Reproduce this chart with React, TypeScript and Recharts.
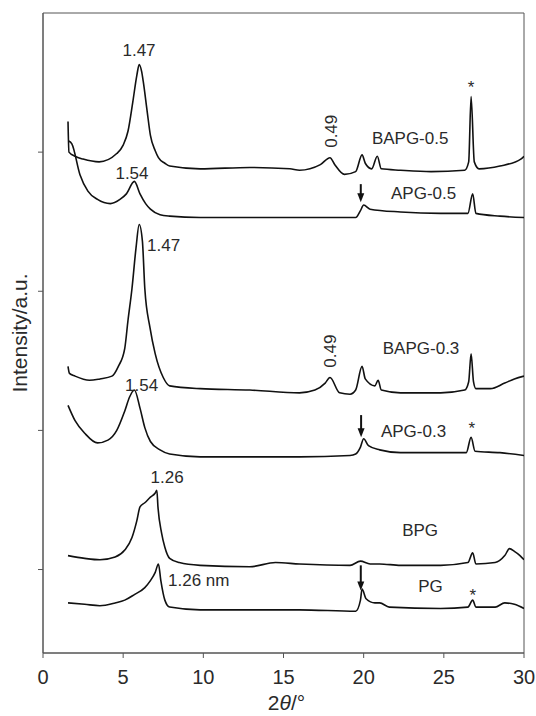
import React from 'react';
import {
  LineChart,
  Line,
  XAxis,
  YAxis,
  ReferenceArea,
  ReferenceDot,
  ReferenceLine
} from 'recharts';

// XRD patterns, [2θ (°), intensity (a.u., stacked offsets)]
const bapg05 = [
  [1.56, 322], [1.62, 300], [2.0, 297], [2.5, 295], [3.5, 293], [4.6, 299], [5.0, 305], [5.3, 315],
  [5.6, 336], [5.85, 355], [6.0, 363], [6.15, 358], [6.25, 351], [6.5, 329], [6.7, 312], [7.0, 301],
  [7.2, 296], [7.6, 292], [7.9, 290], [9.8, 288], [12.9, 289], [15.4, 288], [16.0, 287], [17.3, 291],
  [17.9, 296], [18.2, 291], [18.8, 284], [19.5, 286], [19.9, 298], [20.1, 292], [20.5, 288], [20.85, 297],
  [21.1, 288], [22.3, 287], [24.2, 286], [26.3, 287], [26.55, 293], [26.7, 340], [26.9, 293], [27.2, 288],
  [28.5, 290], [29.8, 295], [30, 297]
];
const apg05 = [
  [1.6, 308], [1.8, 306], [2.3, 284], [2.8, 272], [3.4, 266], [4.2, 263], [4.8, 266], [5.2, 270],
  [5.7, 279], [6.05, 270], [6.4, 263], [6.7, 259], [7.3, 255], [7.9, 254], [9.8, 253], [12.9, 253],
  [16.0, 253], [19.5, 253], [19.8, 258], [20.0, 262], [20.4, 259], [22.3, 257], [24.8, 256], [26.5, 256],
  [26.8, 270], [27.0, 256], [28.5, 254], [30, 253]
];
const bapg03 = [
  [1.56, 146], [1.65, 141], [2.0, 139], [2.9, 136], [3.55, 137], [4.3, 139], [4.7, 146], [5.1, 159],
  [5.3, 179], [5.55, 202], [5.8, 231], [6.0, 248], [6.2, 236], [6.35, 202], [6.67, 174], [7.0, 155],
  [7.5, 138], [7.9, 132], [9.8, 130], [12.9, 129], [16.0, 127], [16.96, 129], [17.6, 134], [17.9, 138],
  [18.5, 127], [19.15, 126], [19.5, 129], [19.9, 146], [20.1, 137], [20.7, 132], [20.9, 136], [21.1, 129],
  [22.3, 127], [24.8, 127], [26.3, 129], [26.55, 135], [26.7, 155], [26.85, 135], [27.0, 130], [27.9, 130],
  [28.8, 134], [29.4, 137], [30, 139]
];
const apg03 = [
  [1.56, 118], [2.0, 107], [2.6, 98], [3.4, 91], [4.05, 93], [4.6, 100], [5.1, 114], [5.4, 124],
  [5.7, 129], [6.05, 116], [6.35, 102], [6.7, 92], [7.3, 86], [7.9, 83], [9.8, 81], [12.9, 81],
  [16.0, 81], [19.15, 82], [19.5, 83], [19.8, 88], [20.0, 94], [20.3, 89], [21.0, 86], [22.3, 84],
  [24.8, 84], [26.4, 84], [26.7, 95], [26.95, 85], [28.5, 84], [30, 82]
];
const bpg = [
  [1.56, 10], [2.6, 8], [3.55, 7], [4.5, 9], [5.1, 14], [5.55, 23], [5.85, 35], [6.05, 45],
  [6.35, 48], [6.7, 52], [7.0, 55], [7.1, 57], [7.17, 45], [7.4, 26], [7.6, 16], [7.9, 8],
  [8.5, 5], [9.8, 3], [12.9, 2], [14.5, 5], [16.0, 4], [19.15, 3], [19.8, 6], [20.4, 4],
  [21.0, 4], [22.3, 3], [24.8, 3], [26.5, 5], [26.8, 12], [27.0, 4], [28.2, 5], [28.8, 10],
  [29.1, 15], [29.4, 13], [29.75, 10], [30, 7]
];
const pg = [
  [1.56, -24], [2.6, -25], [3.55, -26], [4.5, -24], [5.1, -22], [5.7, -18], [6.35, -13], [6.7, -8],
  [7.0, -2], [7.2, 4], [7.35, -8], [7.6, -22], [7.9, -27], [9.8, -29], [12.9, -29], [16.0, -29],
  [19.5, -30], [19.8, -22], [19.9, -14], [20.15, -21], [20.7, -24], [21.0, -24], [21.6, -27], [24.8, -28],
  [26.5, -27], [26.8, -22], [27.0, -27], [28.2, -27], [28.8, -24], [29.4, -25], [30, -28]
];

const xTicks = [0, 5, 10, 15, 20, 25, 30];
const yTicks = [0, 100, 200, 300];

// peak / sample labels (x in 2θ, y in a.u.)
const labels = [
  { x: 5.99, y: 373, text: '1.47' },
  { x: 18.0, y: 315, text: '0.49', vertical: true },
  { x: 22.9, y: 310, text: 'BAPG-0.5' },
  { x: 5.55, y: 285, text: '1.54' },
  { x: 23.74, y: 270, text: 'APG-0.5' },
  { x: 6.49, y: 233, text: '1.47', start: true },
  { x: 17.93, y: 157, text: '0.49', vertical: true },
  { x: 23.58, y: 159, text: 'BAPG-0.3' },
  { x: 6.15, y: 132, text: '1.54' },
  { x: 23.11, y: 99, text: 'APG-0.3' },
  { x: 7.74, y: 66, text: '1.26' },
  { x: 23.52, y: 28, text: 'BPG' },
  { x: 7.8, y: -8, text: '1.26 nm', start: true },
  { x: 24.17, y: -12, text: 'PG' }
];
const stars = [
  { x: 26.7, y: 349 },
  { x: 26.75, y: 104 },
  { x: 26.8, y: -16 }
];
const arrows = [
  { x: 19.82, from: 277, to: 264 },
  { x: 19.84, from: 111, to: 95 },
  { x: 19.82, from: 3, to: -15 }
];

const series = [bapg05, apg05, bapg03, apg03, bpg, pg];
const toPoints = (rows: number[][]) => rows.map(([x, y]) => ({ x, y }));

const FONT = '"Liberation Sans", Arial, Helvetica, sans-serif';
const INK = '#111';
const TEXT = '#2a2a2a';
const AXIS = '#555';

const Arrow = (p: any) => {
  const { x1, y1, x2, y2 } = p;
  const head = 9;
  return (
    <g>
      <line x1={x1} y1={y1} x2={x2} y2={y2 - head + 1} stroke={INK} strokeWidth={2} />
      <path d={`M${x2 - 3.5},${y2 - head} L${x2 + 3.5},${y2 - head} L${x2},${y2} Z`} fill={INK} />
    </g>
  );
};

const YTitle = ({ viewBox }: any) => (
  <text
    x={viewBox.x + 14}
    y={viewBox.y + viewBox.height / 2}
    transform={`rotate(-90, ${viewBox.x + 14}, ${viewBox.y + viewBox.height / 2})`}
    textAnchor="middle"
    fontSize={21}
    fontFamily={FONT}
    fill={TEXT}
  >
    Intensity/a.u.
  </text>
);

const XTitle = ({ viewBox }: any) => (
  <text
    x={viewBox.x + viewBox.width / 2 + 3}
    y={viewBox.y + 57}
    textAnchor="middle"
    fontSize={21}
    fontFamily={FONT}
    fill={TEXT}
  >
    2<tspan fontStyle="italic">θ</tspan>/°
  </text>
);

export default function App() {
  return (
    <div style={{ position: 'absolute', left: 0, top: 0, width: 536, height: 716 }}>
      <LineChart width={536} height={716} margin={{ top: 13, right: 12, bottom: 0, left: 13 }}>
        <XAxis
          type="number"
          dataKey="x"
          domain={[0, 30]}
          ticks={xTicks}
          allowDataOverflow
          height={63}
          stroke={AXIS}
          tickSize={5}
          tickMargin={12}
          tick={{ fontSize: 20, fontFamily: FONT, fill: TEXT }}
          label={{ content: XTitle }}
        />
        <YAxis
          type="number"
          dataKey="y"
          domain={[-60, 400]}
          ticks={yTicks}
          allowDataOverflow
          width={30}
          stroke={AXIS}
          tickSize={5}
          tickFormatter={() => ''}
          label={{ content: YTitle }}
        />
        <ReferenceArea x1={0} x2={30} y1={-60} y2={400} fill="none" stroke={AXIS} strokeWidth={1} />
        {series.map((rows, i) => (
          <Line
            key={i}
            data={toPoints(rows)}
            dataKey="y"
            type="monotone"
            stroke={INK}
            strokeWidth={1.6}
            dot={false}
            activeDot={false}
            isAnimationActive={false}
          />
        ))}
        {arrows.map((a, i) => (
          <ReferenceLine
            key={`a${i}`}
            segment={[{ x: a.x, y: a.from }, { x: a.x, y: a.to }]}
            shape={Arrow}
          />
        ))}
        {labels.map((l, i) => (
          <ReferenceDot
            key={`l${i}`}
            x={l.x}
            y={l.y}
            r={1}
            shape={(p: any) => (
              <text
                x={p.cx}
                y={p.cy}
                textAnchor={l.start ? 'start' : 'middle'}
                dominantBaseline="central"
                transform={l.vertical ? `rotate(-90, ${p.cx}, ${p.cy})` : undefined}
                fontSize={17}
                fontFamily={FONT}
                fill={TEXT}
              >
                {l.text}
              </text>
            )}
          />
        ))}
        {stars.map((s, i) => (
          <ReferenceDot
            key={`s${i}`}
            x={s.x}
            y={s.y}
            r={1}
            shape={(p: any) => (
              <text
                x={p.cx}
                y={p.cy + 4}
                textAnchor="middle"
                dominantBaseline="central"
                fontSize={17}
                fontFamily={FONT}
                fill={TEXT}
              >
                *
              </text>
            )}
          />
        ))}
      </LineChart>
    </div>
  );
}
